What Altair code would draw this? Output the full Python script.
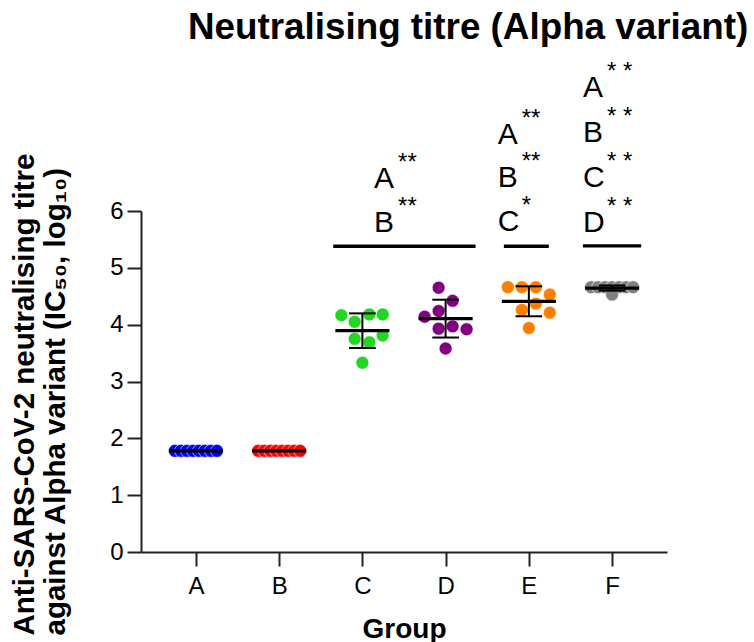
import altair as alt
import pandas as pd

FONT = "Liberation Sans"

# ---------------- data ----------------
groups = ["A", "B", "C", "D", "E", "F"]
colors = ["#0000FF", "#FF0000", "#22D622", "#800080", "#FF8000", "#808080"]

vals_A = [1.78, 1.78, 1.78, 1.78, 1.78, 1.78, 1.78, 1.78]
vals_B = [1.78, 1.78, 1.78, 1.78, 1.78, 1.78, 1.78, 1.78]
vals_C = [4.165, 4.05, 4.18, 4.18, 3.75, 3.69, 3.81, 3.33]
vals_D = [4.65, 4.42, 4.14, 4.24, 3.93, 3.97, 3.92, 3.58]
vals_E = [4.66, 4.66, 4.66, 4.53, 4.37, 4.26, 4.21, 3.94]
vals_F = [4.66, 4.66, 4.66, 4.66, 4.66, 4.66, 4.66, 4.53]

# beeswarm column of each point (in point diameters)
swarm_A = [-1.5, -1.07, -0.64, -0.21, 0.21, 0.64, 1.07, 1.5]
swarm_B = [-1.5, -1.07, -0.64, -0.21, 0.21, 0.64, 1.07, 1.5]
swarm_C = [-1.5, -0.55, 0.5, 1.45, -0.55, 0.5, 1.45, 0.0]
swarm_D = [-0.5, 0.5, -1.5, -0.5, -0.5, 0.5, 1.5, 0.0]
swarm_E = [-1.5, -0.5, 0.5, 1.5, 0.5, -0.5, 1.5, 0.0]
swarm_F = [-1.5, -1.0, -0.5, 0.0, 0.5, 1.0, 1.5, 0.0]

# significance annotations
bracket_from = [2.65, 4.70, 5.65]
bracket_to = [4.36, 5.24, 6.35]
bracket_level = [5.38, 5.38, 5.385]

sig_x = [3.14, 3.14, 4.625, 4.625, 4.625, 5.65, 5.65, 5.65, 5.65]
sig_y = [5.63, 6.41, 5.64, 6.42, 7.18, 5.63, 6.42, 7.21, 8.0]
sig_letter = ["B", "A", "C", "B", "A", "D", "C", "B", "A"]
sig_stars = ["**", "**", "*", "**", "**", "* *", "* *", "* *", "* *"]

y_ticks = [0, 1, 2, 3, 4, 5, 6]

# ---------------- tables ----------------
all_vals = [vals_A, vals_B, vals_C, vals_D, vals_E, vals_F]
all_swarm = [swarm_A, swarm_B, swarm_C, swarm_D, swarm_E, swarm_F]
rows = []
for i, g in enumerate(groups):
    for v, s in zip(all_vals[i], all_swarm[i]):
        rows.append({"group": g, "idx": i + 1, "value": v, "col": s})
pts_df = pd.DataFrame(rows)

br_df = pd.DataFrame({"x1": bracket_from, "x2": bracket_to, "y": bracket_level})
sig_df = pd.DataFrame({"x": sig_x, "y": sig_y, "letter": sig_letter, "stars": sig_stars})

# ---------------- scales / axes ----------------
xscale = alt.Scale(domain=[0.34, 6.66], nice=False, zero=False)
yscale = alt.Scale(domain=[0, 6], nice=False, zero=True)

xaxis = alt.Axis(
    values=[1, 2, 3, 4, 5, 6],
    labelExpr="['A','B','C','D','E','F'][datum.value - 1]",
    title="Group",
    grid=False,
    tickSize=14, tickWidth=2, tickColor="#222222",
    domainWidth=2, domainColor="#222222",
    labelFont=FONT, labelFontSize=24, labelColor="black", labelPadding=8,
    titleFont=FONT, titleFontSize=28, titleFontWeight="bold", titleColor="black",
    titleBaseline="alphabetic", titleY=85,
)
yaxis = alt.Axis(
    values=y_ticks,
    title=["Anti-SARS-CoV-2 neutralising titre", "against Alpha variant (IC₅₀, log₁₀)"],
    grid=False,
    tickSize=14, tickWidth=2, tickColor="#222222",
    domainWidth=2, domainColor="#222222",
    labelFont=FONT, labelFontSize=24, labelColor="black", labelPadding=4,
    titleFont=FONT, titleFontSize=29.5, titleFontWeight="bold", titleColor="black",
    titleAngle=270, titleAlign="left", titleBaseline="alphabetic",
    titleX=-107.7, titleY=424, titleLineHeight=31,
)

X = lambda f: alt.X(f, type="quantitative", scale=xscale, axis=xaxis)
Y = lambda f: alt.Y(f, type="quantitative", scale=yscale, axis=yaxis)

base = alt.Chart(pts_df)

points = base.transform_calculate(
    xp="datum.idx + datum.col * 0.168"
).mark_circle(size=168, opacity=1, stroke="white", strokeWidth=0.6).encode(
    x=X("xp"),
    y=Y("value"),
    color=alt.Color("group:N", scale=alt.Scale(domain=groups, range=colors), legend=None),
)

stats = base.transform_aggregate(
    m="mean(value)", sd="stdev(value)", groupby=["group", "idx"]
).transform_calculate(
    lo="datum.m - datum.sd",
    hi="datum.m + datum.sd",
    mx1="datum.idx - 0.325",
    mx2="datum.idx + 0.325",
    cx1="datum.idx - 0.16",
    cx2="datum.idx + 0.16",
)

err = stats.mark_rule(color="black", strokeWidth=2).encode(x=X("idx"), y=Y("lo"), y2="hi:Q")
cap_hi = stats.mark_rule(color="black", strokeWidth=2).encode(x=X("cx1"), x2="cx2:Q", y=Y("hi"))
cap_lo = stats.mark_rule(color="black", strokeWidth=2).encode(x=X("cx1"), x2="cx2:Q", y=Y("lo"))
mean_line = stats.mark_rule(color="black", strokeWidth=3.3).encode(x=X("mx1"), x2="mx2:Q", y=Y("m"))

brackets = alt.Chart(br_df).mark_rule(color="black", strokeWidth=3.3).encode(
    x=X("x1"), x2="x2:Q", y=Y("y")
)
letters = alt.Chart(sig_df).mark_text(
    align="left", baseline="alphabetic", font=FONT, fontSize=30, color="black"
).encode(x=X("x"), y=Y("y"), text="letter:N")
stars = alt.Chart(sig_df).mark_text(
    align="left", baseline="alphabetic", font=FONT, fontSize=24, color="black", dx=24, dy=-18
).encode(x=X("x"), y=Y("y"), text="stars:N")

chart = alt.layer(points, err, cap_hi, cap_lo, mean_line, brackets, letters, stars).properties(
    width=526,
    height=341,
    autosize=alt.AutoSizeParams(type="none"),
    padding={"left": 141, "top": 211, "right": 87, "bottom": 90},
    title=alt.TitleParams(
        "Neutralising titre (Alpha variant)",
        font=FONT, fontSize=36.8, fontWeight="bold", color="black",
        anchor="start", frame="group", dx=47, baseline="alphabetic", offset=-15,
    ),
).configure_view(stroke=None)

chart.save("out.html", embed_options={"renderer": "svg", "actions": False})
